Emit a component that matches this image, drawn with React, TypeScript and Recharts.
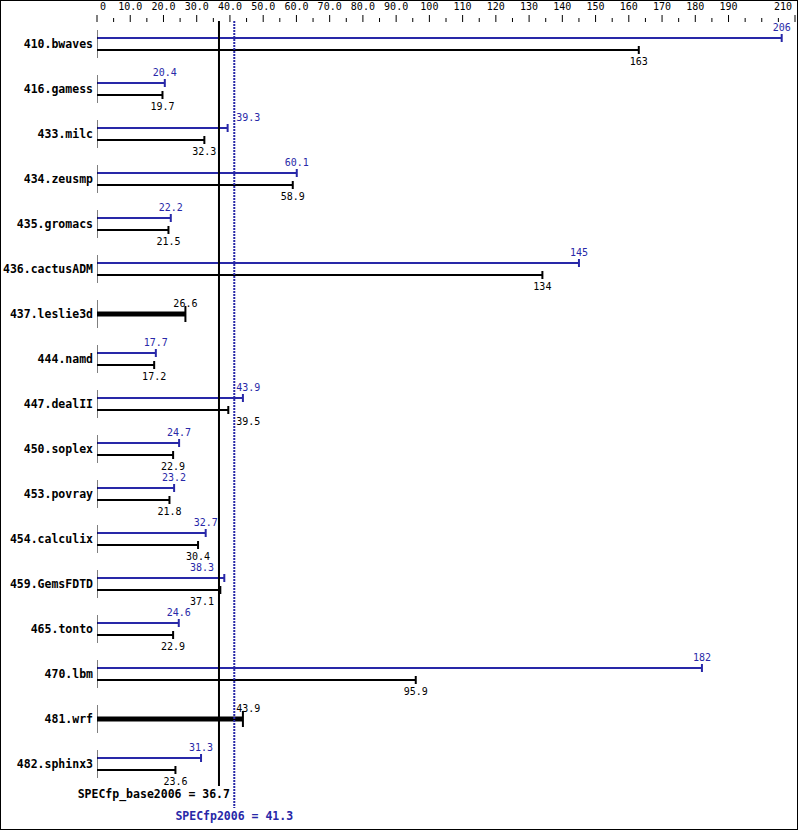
import React from "react";
import { BarChart, Bar, XAxis, YAxis, ReferenceLine } from "recharts";

const benchmarks = [
  "410.bwaves", "416.gamess", "433.milc", "434.zeusmp", "435.gromacs",
  "436.cactusADM", "437.leslie3d", "444.namd", "447.dealII", "450.soplex",
  "453.povray", "454.calculix", "459.GemsFDTD", "465.tonto", "470.lbm",
  "481.wrf", "482.sphinx3",
];
const peakScores: (number | null)[] = [
  206, 20.4, 39.3, 60.1, 22.2, 145, null, 17.7, 43.9, 24.7, 23.2, 32.7, 38.3, 24.6, 182, null, 31.3,
];
const baseScores: number[] = [
  163, 19.7, 32.3, 58.9, 21.5, 134, 26.6, 17.2, 39.5, 22.9, 21.8, 30.4, 37.1, 22.9, 95.9, 43.9, 23.6,
];
const BASE_MEAN = 36.7;
const PEAK_MEAN = 41.3;
const axisTicks: number[] = [];
for (let v = 0; v <= 210; v += 5) axisTicks.push(v);
const labeledTicks = [0, 10, 20, 30, 40, 50, 60, 70, 80, 90, 100, 110, 120, 130, 140, 150, 160, 170, 180, 190, 210];

const data = benchmarks.map((name, i) => ({ name, peak: peakScores[i], base: baseScores[i] }));

const BLUE = "#2828a8";
const MONO = "'DejaVu Sans Mono', 'Liberation Mono', monospace";

const fmt = (v: number) => (v >= 100 ? String(Math.round(v)) : v.toFixed(1));
const fmtTick = (v: number) => (v === 0 ? "0" : v >= 100 ? String(v) : v.toFixed(1));

function labelCenter(endX: number, text: string, x0: number, unit: number) {
  const w = text.length * 6;
  const baseX = x0 + BASE_MEAN * unit;
  const peakX = x0 + PEAK_MEAN * unit;
  let cx = endX;
  if (cx + w / 2 > baseX - 1 && cx - w / 2 < peakX + 1) {
    if (endX < (baseX + peakX) / 2) cx = baseX - 5 - w / 2;
    else cx = peakX + 2 + w / 2;
  }
  return cx;
}

function PeakShape(props: any) {
  const { x, y, width, height, payload } = props;
  if (payload.peak == null) return null;
  const cy = y + height / 2;
  const ex = x + width;
  const unit = width / payload.peak;
  const txt = fmt(payload.peak);
  const cx = labelCenter(ex, txt, x, unit);
  return (
    <g>
      <line x1={x} x2={ex} y1={cy} y2={cy} stroke={BLUE} strokeWidth={2} />
      <line x1={ex} x2={ex} y1={cy - 4} y2={cy + 4} stroke={BLUE} strokeWidth={2} />
      <text x={cx} y={cy - 7} textAnchor="middle" fontFamily={MONO} fontSize={10} fill={BLUE}>
        {txt}
      </text>
    </g>
  );
}

function BaseShape(props: any) {
  const { x, y, width, height, payload } = props;
  const single = payload.peak == null;
  const top = y; // category center
  const cy = single ? top : y + height / 2;
  const ex = x + width;
  const unit = width / payload.base;
  const txt = fmt(payload.base);
  const cx = labelCenter(ex, txt, x, unit);
  return (
    <g>
      <line x1={x} x2={x} y1={top - 14} y2={top + 14} stroke="#000" strokeWidth={1} />
      <line x1={x} x2={ex} y1={cy} y2={cy} stroke="#000" strokeWidth={single ? 5 : 2} />
      <line
        x1={ex}
        x2={ex}
        y1={cy - (single ? 8 : 4)}
        y2={cy + (single ? 8 : 4)}
        stroke="#000"
        strokeWidth={2}
      />
      <text
        x={cx}
        y={single ? cy - 7 : cy + 15}
        textAnchor="middle"
        fontFamily={MONO}
        fontSize={10}
        fill="#000"
      >
        {txt}
      </text>
    </g>
  );
}

function XTick(props: any) {
  const { x, payload } = props;
  const v = payload.value as number;
  const major = labeledTicks.includes(v);
  let anchor: "middle" | "start" | "end" = "middle";
  let tx = x;
  if (v === 0) {
    anchor = "start";
    tx = x + 3;
  } else if (v === 210) {
    anchor = "end";
    tx = x - 3;
  }
  return (
    <g>
      <line x1={x} x2={x} y1={major ? 14 : 17} y2={21} stroke="#000" strokeWidth={1} />
      {major && (
        <text x={tx} y={9} textAnchor={anchor} fontFamily={MONO} fontSize={10} fill="#000">
          {fmtTick(v)}
        </text>
      )}
    </g>
  );
}

function YTick(props: any) {
  const { y, payload } = props;
  return (
    <text x={92} y={y + 4} textAnchor="end" fontFamily={MONO} fontSize={11.5} fontWeight="bold" fill="#000">
      {payload.value}
    </text>
  );
}

function BaseLabel(props: any) {
  const vb = props.viewBox || {};
  const x = vb.x ?? 0;
  const bottom = (vb.y ?? 0) + (vb.height ?? 0);
  return (
    <text x={x + 11} y={bottom + 12} textAnchor="end" fontFamily={MONO} fontSize={11.5} fontWeight="bold" fill="#000">
      {`SPECfp_base2006 = ${BASE_MEAN}`}
    </text>
  );
}

function PeakLabel(props: any) {
  const vb = props.viewBox || {};
  const x = vb.x ?? 0;
  const bottom = (vb.y ?? 0) + (vb.height ?? 0);
  return (
    <g>
      <line x1={x} x2={x} y1={bottom} y2={bottom + 22} stroke={BLUE} strokeWidth={2} strokeDasharray="2 1" />
      <text x={x} y={bottom + 34} textAnchor="middle" fontFamily={MONO} fontSize={11.5} fontWeight="bold" fill={BLUE}>
        {`SPECfp2006 = ${PEAK_MEAN}`}
      </text>
    </g>
  );
}

export default function App() {
  return (
    <div
      style={{
        position: "absolute",
        left: 0,
        top: 0,
        width: 798,
        height: 830,
        border: "1px solid #000",
        boxSizing: "border-box",
        background: "#fff",
      }}
    >
      <BarChart
        width={796}
        height={828}
        data={data}
        layout="vertical"
        margin={{ top: 0, right: 2, bottom: 43, left: 0 }}
        barGap={0}
        barCategoryGap={0}
      >
        <XAxis
          type="number"
          orientation="top"
          domain={[0, 210]}
          ticks={axisTicks}
          interval={0}
          height={20}
          axisLine={false}
          tickLine={false}
          tick={<XTick />}
          allowDataOverflow
        />
        <YAxis
          type="category"
          dataKey="name"
          width={96}
          axisLine={false}
          tickLine={false}
          interval={0}
          tick={<YTick />}
        />
        <Bar dataKey="peak" barSize={12} isAnimationActive={false} shape={<PeakShape />} />
        <Bar dataKey="base" barSize={12} isAnimationActive={false} shape={<BaseShape />} />
        <ReferenceLine x={BASE_MEAN} stroke="#000" strokeWidth={2} label={<BaseLabel />} />
        <ReferenceLine x={PEAK_MEAN} stroke={BLUE} strokeWidth={2} strokeDasharray="2 1" label={<PeakLabel />} />
      </BarChart>
    </div>
  );
}
